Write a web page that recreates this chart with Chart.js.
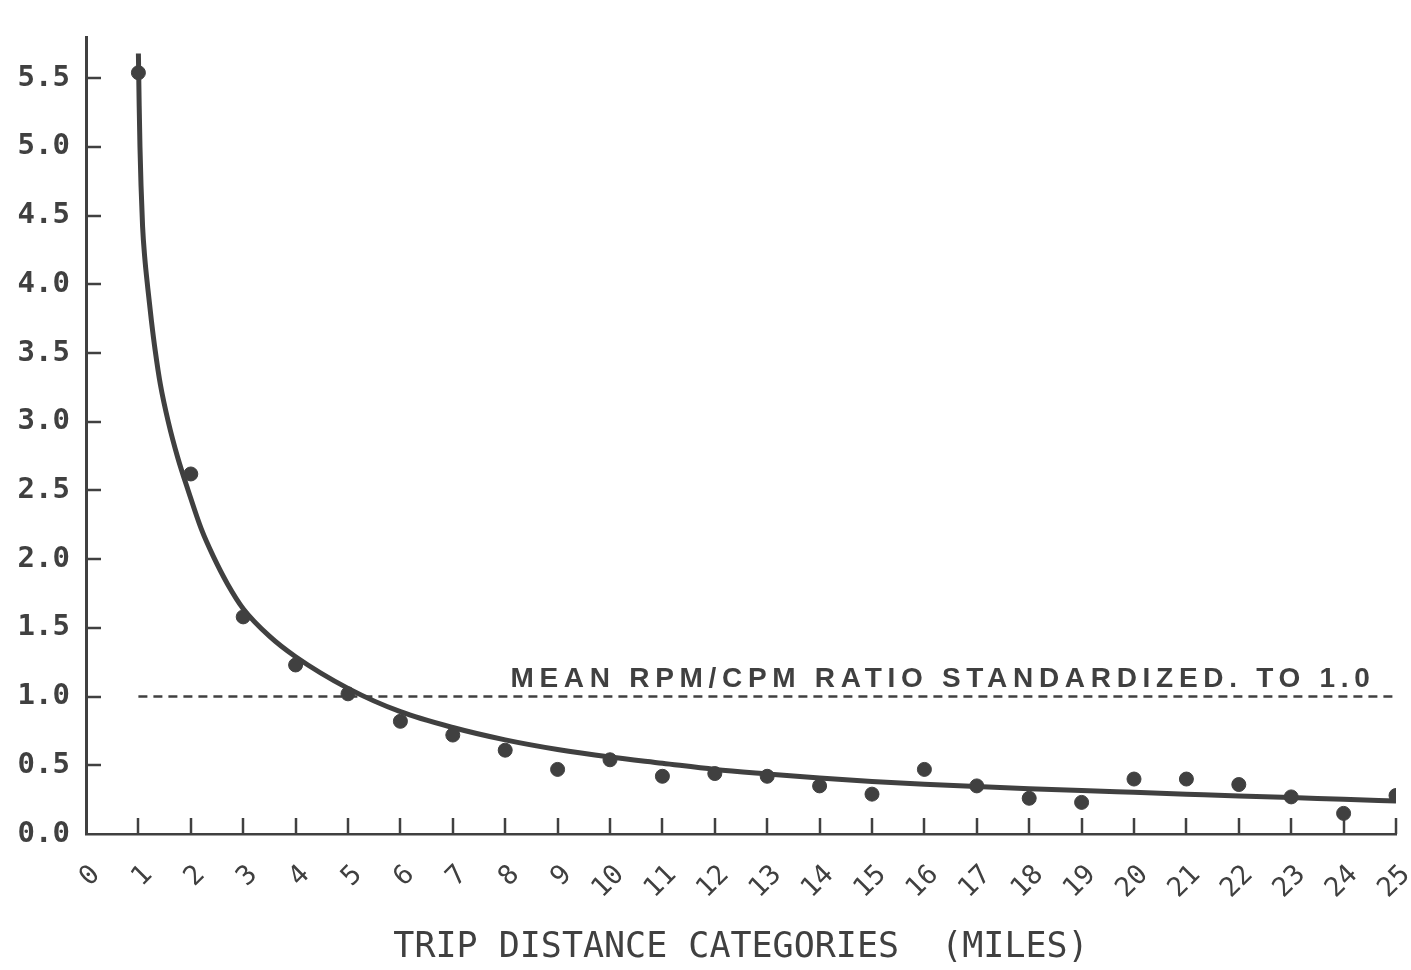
<!DOCTYPE html>
<html>
<head>
<meta charset="utf-8">
<script src="https://cdn.jsdelivr.net/npm/chart.js@4.4.1/dist/chart.umd.min.js"></script>
<style>
html,body{margin:0;padding:0;background:#fff;}
#wrap{width:1411px;height:970px;position:relative;}
</style>
</head>
<body>
<div id="wrap"><canvas id="c"></canvas></div>
<script>
// ---- data ----
const xTickValues = [0,1,2,3,4,5,6,7,8,9,10,11,12,13,14,15,16,17,18,19,20,21,22,23,24,25];
const xTickLabels = ['0','1','2','3','4','5','6','7','8','9','10','11','12','13','14','15','16','17','18','19','20','21','22','23','24','25'];
const yTickValues = [0,0.5,1,1.5,2,2.5,3,3.5,4,4.5,5,5.5];
const yTickLabels = ['0.0','0.5','1.0','1.5','2.0','2.5','3.0','3.5','4.0','4.5','5.0','5.5'];

const observedX = [1,2,3,4,5,6,7,8,9,10,11,12,13,14,15,16,17,18,19,20,21,22,23,24,25];
const observedRatio = [5.54,2.62,1.58,1.23,1.02,0.82,0.72,0.61,0.47,0.54,0.42,0.44,0.42,0.35,0.29,0.47,0.35,0.26,0.23,0.40,0.40,0.36,0.27,0.15,0.28];

const fitX = [1,1.015,1.03,1.05,1.08,1.12,1.18,1.25,1.32,1.42,1.57,1.75,1.95,2.2,2.43,2.7,3,3.5,4,5,6,7,8,9,10,11,12,13,14,15,16,17,18,19,20,21,22,23,24,25];
const fitRatio = [5.68,5.3,5.0,4.72,4.42,4.2,3.97,3.73,3.52,3.27,3.0,2.74,2.5,2.22,2.02,1.82,1.64,1.44,1.29,1.06,0.89,0.775,0.685,0.615,0.56,0.515,0.47,0.437,0.407,0.382,0.362,0.345,0.33,0.316,0.303,0.29,0.277,0.265,0.252,0.24];

const meanX = [1,25];
const meanRatio = [1.0,1.0];
const meanLabel = 'MEAN RPM/CPM RATIO STANDARDIZED. TO 1.0';
const xTitle = 'TRIP DISTANCE CATEGORIES  (MILES)';

// ---- styling ----
const ink = '#404040';

const toPts = (xs, ys) => xs.map((v, i) => ({x: v, y: ys[i]}));

// inward tick marks, placed through the chart's own scales
const innerTicksPlugin = {
  id: 'innerTicks',
  afterDatasetsDraw(chart) {
    const ctx = chart.ctx;
    const area = chart.chartArea;
    const xs = chart.scales.x;
    const ys = chart.scales.y;
    ctx.save();
    ctx.setLineDash([]);
    ctx.strokeStyle = ink;
    ctx.lineWidth = 2.5;
    xTickValues.forEach(v => {
      if (v === 0) return;
      const px = Math.round(xs.getPixelForValue(v));
      ctx.beginPath();
      ctx.moveTo(px, area.bottom);
      ctx.lineTo(px, area.bottom - 16);
      ctx.stroke();
    });
    yTickValues.forEach(v => {
      if (v === 0) return;
      const py = Math.round(ys.getPixelForValue(v));
      ctx.beginPath();
      ctx.moveTo(area.left, py);
      ctx.lineTo(area.left + 15, py);
      ctx.stroke();
    });
    ctx.restore();
  }
};

const meanLabelPlugin = {
  id: 'meanLabel',
  afterDatasetsDraw(chart) {
    const {ctx, scales: {x, y}} = chart;
    const left = x.getPixelForValue(8.1);
    const right = x.getPixelForValue(24.5);
    const base = y.getPixelForValue(1.0) - 10;
    ctx.save();
    ctx.font = 'bold 28px "Liberation Sans", Arial, sans-serif';
    ctx.fillStyle = ink;
    ctx.letterSpacing = '0px';
    const natural = ctx.measureText(meanLabel).width;
    const sp = (right - left - natural) / (meanLabel.length - 1);
    ctx.letterSpacing = sp + 'px';
    ctx.textAlign = 'left';
    ctx.textBaseline = 'alphabetic';
    ctx.fillText(meanLabel, left, base);
    ctx.restore();
  }
};

new Chart(document.getElementById('c'), {
  type: 'scatter',
  data: {
    datasets: [
      {
        label: 'fit',
        type: 'line',
        data: toPts(fitX, fitRatio),
        borderColor: ink,
        borderWidth: 5,
        pointRadius: 0,
        cubicInterpolationMode: 'monotone',
        fill: false,
        order: 2
      },
      {
        label: 'mean',
        type: 'line',
        data: toPts(meanX, meanRatio),
        borderColor: ink,
        borderWidth: 2.5,
        borderDash: [9, 6],
        pointRadius: 0,
        fill: false,
        order: 3
      },
      {
        label: 'observed',
        data: toPts(observedX, observedRatio),
        backgroundColor: ink,
        borderColor: ink,
        pointRadius: 7,
        pointHoverRadius: 7,
        order: 1
      }
    ]
  },
  options: {
    responsive: true,
    maintainAspectRatio: false,
    animation: false,
    events: [],
    layout: { padding: { top: 37, right: 15, left: 0, bottom: 0 } },
    plugins: { legend: { display: false }, tooltip: { enabled: false }, title: { display: false } },
    scales: {
      x: {
        type: 'linear',
        min: 0,
        max: 25,
        afterBuildTicks: (s) => { s.ticks = xTickValues.map(v => ({value: v})); },
        afterFit: (s) => { s.height = 136; s.paddingLeft = 0; s.paddingRight = 0; },
        border: { display: true, color: ink, width: 2.5 },
        grid: { drawOnChartArea: false, drawTicks: false },
        ticks: {
          autoSkip: false,
          minRotation: 45,
          maxRotation: 45,
          labelOffset: 10,
          padding: 25,
          color: ink,
          font: { family: '"DejaVu Sans Mono", monospace', size: 27 },
          callback: (v) => { const i = xTickValues.indexOf(v); return i >= 0 ? xTickLabels[i] : ''; }
        },
        title: {
          display: true,
          text: xTitle,
          color: ink,
          font: { family: '"DejaVu Sans Mono", monospace', size: 35 },
          padding: { top: 0, bottom: 1 }
        }
      },
      y: {
        type: 'linear',
        min: 0,
        max: 5.8,
        afterBuildTicks: (s) => { s.ticks = yTickValues.map(v => ({value: v})); },
        afterFit: (s) => { s.width = 86; s.paddingTop = 0; s.paddingBottom = 0; },
        border: { display: true, color: ink, width: 3 },
        grid: { drawOnChartArea: false, drawTicks: false },
        ticks: {
          autoSkip: false,
          padding: 16,
          color: ink,
          font: { family: '"DejaVu Sans Mono", monospace', size: 29, weight: 'bold' },
          callback: (v) => { const i = yTickValues.indexOf(v); return i >= 0 ? yTickLabels[i] : ''; }
        }
      }
    }
  },
  plugins: [innerTicksPlugin, meanLabelPlugin]
});
</script>
</body>
</html>
